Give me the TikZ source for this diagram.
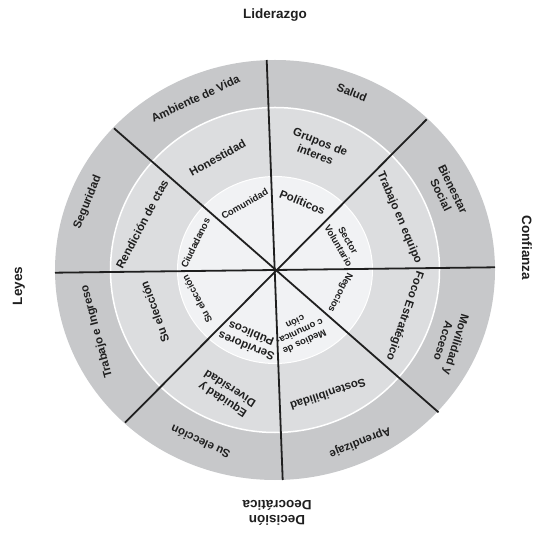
\documentclass[tikz,border=0pt]{standalone}
\usepackage{fontspec}
\setmainfont{Liberation Sans}
\definecolor{ringout}{HTML}{C7C8CA}
\definecolor{ringmid}{HTML}{DCDDDF}
\definecolor{ringin}{HTML}{F1F2F4}
\definecolor{ink}{HTML}{1F1F1F}
\tikzset{
  outerlbl/.style={font=\bfseries\fontsize{13.5}{15}\selectfont, text=ink, align=center, inner sep=0pt},
  ringlbl/.style={font=\bfseries\fontsize{11.5}{13.5}\selectfont, text=ink, align=center, inner sep=0pt},
  hublbl/.style={font=\bfseries\fontsize{9.5}{11}\selectfont, text=ink, align=center, inner sep=0pt},
  spoke/.style={draw=ink, line width=1.8pt},
}
\begin{document}
\begin{tikzpicture}[x=1pt,y=1pt]
  \useasboundingbox (-275,-264) rectangle (258,270);
  % Rings
  \fill[ringout] (0,0) ellipse [x radius=220, y radius=210];
  \fill[ringmid, draw=white, line width=1.5pt] (0,0) ellipse [x radius=164.5, y radius=162.5];
  \fill[ringin, draw=white, line width=1pt] (0,0) ellipse [x radius=97.5, y radius=93.5];
  % Spokes
  \coordinate (pE) at (220,2.7);
  \coordinate (pW) at (-220,-2.7);
  \coordinate (pN) at (-8.3,210);
  \coordinate (pS) at (7.7,-210);
  \coordinate (pNE) at (151.7,150.7);
  \coordinate (pSW) at (-150,-152.7);
  \coordinate (pNW) at (-161,141.7);
  \coordinate (pSE) at (163.5,-142.3);
  \draw[spoke] (pE) -- (pW);
  \draw[spoke] (pN) -- (pS);
  \draw[spoke] (pNE) -- (pSW);
  \draw[spoke] (pNW) -- (pSE);
  % Outer ring
  \node[ringlbl, rotate=-22] (salud) at (77,177.5) {Salud};
  \node[ringlbl, rotate=25] (ambiente) at (-79.6,171.4) {Ambiente de Vida};
  \node[ringlbl, rotate=68] (seguridad) at (-187.3,67.8) {Seguridad};
  \node[ringlbl, rotate=-64] (bienestar) at (172,78) {Bienestar\\Social};
  \node[ringlbl, rotate=-107] (movilidad) at (175,-73) {Movilidad y\\Acceso};
  \node[ringlbl, rotate=202] (aprendizaje) at (85,-172) {Aprendizaje};
  \node[ringlbl, rotate=155] (eleccionO) at (-74.5,-172) {Su elección};
  \node[ringlbl, rotate=105] (trabajoI) at (-178,-61.4) {Trabajo e Ingreso};
  % Middle ring
  \node[ringlbl, rotate=-22] (grupos) at (42.8,122) {Grupos de\\interes};
  \node[ringlbl, rotate=29] (honestidad) at (-57.5,112) {Honestidad};
  \node[ringlbl, rotate=62] (rendicion) at (-133,46) {Rendición de ctas};
  \node[ringlbl, rotate=-67] (trabajoE) at (124.4,52.5) {Trabajo en equipo};
  \node[ringlbl, rotate=-109] (foco) at (129.5,-46) {Foco Estratégico};
  \node[ringlbl, rotate=198] (sosten) at (53,-124.3) {Sostenibilidad};
  \node[ringlbl, rotate=147] (equidad) at (-49,-124.3) {Equidad y\\Diversidad};
  \node[ringlbl, rotate=110] (eleccionM) at (-120.3,-42) {Su elección};
  % Inner ring
  \node[ringlbl, rotate=-22] (politicos) at (27.5,67.8) {Políticos};
  \node[hublbl, rotate=30] (comunidad) at (-30.3,66) {Comunidad};
  \node[hublbl, rotate=64] (ciudadanos) at (-79.6,27) {Ciudadanos};
  \node[hublbl, rotate=-60] (sector) at (68.3,27) {Sector\\Voluntario};
  \node[hublbl, rotate=-117] (negocios) at (65,-22.3) {Negocios};
  \node[hublbl, rotate=205] (medios) at (25,-62) {Medios de\\c omunica-\\ción};
  \node[ringlbl, rotate=158] (servidores) at (-26.3,-70) {Servidores\\Públicos};
  \node[hublbl, rotate=118] (eleccionI) at (-77.9,-29.1) {Su elección};
  % Outside labels
  \node[outerlbl] (liderazgo) at (0,255) {Liderazgo};
  \node[outerlbl, rotate=-90] (confianza) at (252,22) {Confianza};
  \node[outerlbl, rotate=90] (leyes) at (-256,-16) {Leyes};
  \node[outerlbl, rotate=180] (decision) at (2,-243) {Decisión\\Deocrática};
\end{tikzpicture}
\end{document}
